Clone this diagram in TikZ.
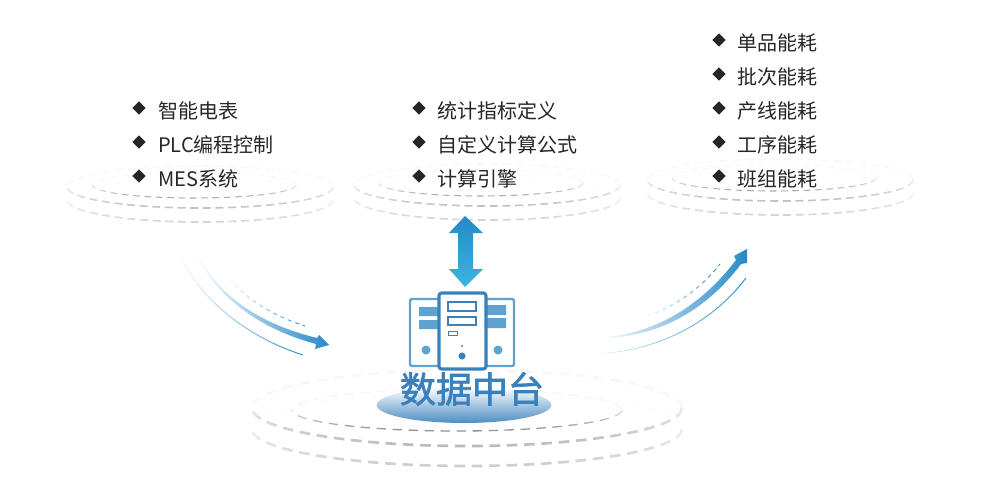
\documentclass[tikz,border=0pt]{standalone}
\usepackage{fontspec}
\setmainfont{Noto Sans CJK SC}
\newfontfamily\titlefont[FakeBold=2]{Noto Sans CJK SC}
\usetikzlibrary{shapes.geometric,fadings}
\definecolor{flowblue}{HTML}{2589C8}
\definecolor{serverdark}{HTML}{3A80BB}
\definecolor{serverlight}{HTML}{5FA2D0}
\definecolor{listink}{HTML}{262626}
\definecolor{arrowlow}{HTML}{3DB5E0}
\definecolor{arrowmid}{HTML}{1F96D3}
\tikzfading[name=ripplefade, top color=transparent!75, bottom color=transparent!0]
\tikzfading[name=flowfade, left color=transparent!100, middle color=transparent!0, right color=transparent!0]
\tikzset{
    listtext/.style={anchor=west, inner sep=0pt, text=listink, font=\fontsize{15}{15}\selectfont, text height=11pt, text depth=2pt},
    bullet/.style={diamond, fill=listink, inner sep=0pt, minimum size=10pt},
    ripple/.style={path fading=ripplefade},
    flow/.style={fill=flowblue, path fading=flowfade},
    flowline/.style={draw=flowblue, path fading=flowfade},
}
% one ring: x, y, x radius, y radius, opacity of far half, line options
\newcommand{\ripplering}[6]{
    \draw [ripple, #6] (#1+#3,#2) arc [start angle=0, end angle=180, x radius=#3, y radius=#4];
    \draw [opacity=#5, #6] (#1+#3,#2) arc [start angle=0, end angle=-180, x radius=#3, y radius=#4];
}
\begin{document}
\begin{tikzpicture}[x=.75pt, y=-.75pt]
    \useasboundingbox (0,0) rectangle (996,493);
    % upper ripples
    \foreach \dx/\dy in {0/0, 287/-2, 580/-7} {
        \ripplering{194+\dx}{185+\dy}{102}{13}{.08}{draw=gray!70, line width=.8pt, dash pattern=on 5pt off 3.5pt}
        \ripplering{200+\dx}{187+\dy}{133}{21}{.1}{draw=gray!50, line width=1.2pt, dash pattern=on 6pt off 3.5pt}
        \ripplering{200+\dx}{200+\dy}{133}{22}{.04}{draw=gray!35, line width=1.2pt, dash pattern=on 6pt off 3.5pt}
    }
    % lower ripples
    \ripplering{457}{410}{165}{21}{.08}{draw=gray!90, line width=1pt, dash pattern=on 7pt off 5pt}
    \ripplering{467}{408}{215}{38}{.1}{draw=gray!55, line width=2pt, dash pattern=on 8pt off 5pt}
    \ripplering{467}{429}{215}{37}{.04}{draw=gray!40, line width=2pt, dash pattern=on 8pt off 5pt}
    % lists
    \foreach \y/\txt [count=\i] in {112/智能电表, 146/PLC编程控制, 180/MES系统} {
        \node [bullet] (leftmark\i) at (139,\y-4) {};
        \node [listtext] (leftitem\i) at (158,\y) {\txt};
    }
    \foreach \y/\txt [count=\i] in {112/统计指标定义, 146/自定义计算公式, 180/计算引擎} {
        \node [bullet] (midmark\i) at (419,\y-4) {};
        \node [listtext] (miditem\i) at (437,\y) {\txt};
    }
    \foreach \y/\txt [count=\i] in {44/单品能耗, 78/批次能耗, 112/产线能耗, 146/工序能耗, 180/班组能耗} {
        \node [bullet] (rightmark\i) at (719,\y-4) {};
        \node [listtext] (rightitem\i) at (737,\y) {\txt};
    }
    % double arrow
    \shade [top color=flowblue, middle color=arrowmid, bottom color=arrowlow] (465,216) -- (483,233) -- (473,233) -- (473,269) -- (483,269) -- (465,287) -- (449,269) -- (458,269) -- (458,233) -- (449,233) -- cycle;
    % servers
    \draw [serverlight, line width=1.8pt, rounded corners=1.5pt] (410,299) rectangle (440,366);
    \draw [serverlight, line width=1.8pt, rounded corners=1.5pt] (486,299) rectangle (514,366);
    \fill [serverlight] (419,307) rectangle (440,316) (419,320) rectangle (440,329);
    \fill [serverlight] (486,305) rectangle (506,315) (486,318) rectangle (506,328);
    \fill [serverlight] (426,350) circle [radius=4.5] (498,350) circle [radius=4.5];
    \draw [serverdark, fill=white, line width=2.3pt, rounded corners=2pt] (439,293) rectangle (486,369);
    \draw [serverdark, line width=1.2pt] (448,302) rectangle (476,311) (448,317) rectangle (476,325);
    \draw [serverdark, line width=.7pt] (448,331) rectangle (457,335);
    \fill [serverdark] (462,346) circle [radius=1.2] (462,356) circle [radius=3.5];
    % platform
    \node [ellipse, minimum width=131pt, minimum height=27pt, inner sep=0pt, top color=white, bottom color=serverdark!90] (base) at (464,405) {};
    \node [inner sep=0pt, text=serverdark, font=\titlefont\fontsize{27}{27}\selectfont] (title) at (472,389) {数据中台};
    % flows
    \coordinate (lstart) at (193,243);
    \coordinate (ltip) at (329,345);
    \coordinate (rstart) at (600,338);
    \coordinate (rtip) at (747,249);
    \fill [flow] (lstart) .. controls (210,290) and (255,323) .. (317,338) -- (319,335) -- (ltip) -- (315,349) -- (316,344) .. controls (255,328) and (207,290) .. (lstart) -- cycle;
    \fill [flow] (rstart) .. controls (660,333) and (704,302) .. (736,260) -- (734,256) -- (rtip) -- (747,263) -- (741,264) .. controls (708,308) and (660,338) .. (rstart) -- cycle;
    \draw [flowline, line width=.7pt] (176,243) .. controls (190,290) and (240,335) .. (303,355);
    \draw [flowline, line width=.7pt] (593,354) .. controls (655,352) and (710,325) .. (746,278);
    \draw [flowline, line width=.7pt, dash pattern=on 3pt off 3pt] (225,272) .. controls (240,295) and (270,315) .. (305,326);
    \draw [flowline, line width=.7pt, dash pattern=on 3pt off 3pt] (640,318) .. controls (670,310) and (700,290) .. (720,264);
\end{tikzpicture}
\end{document}
